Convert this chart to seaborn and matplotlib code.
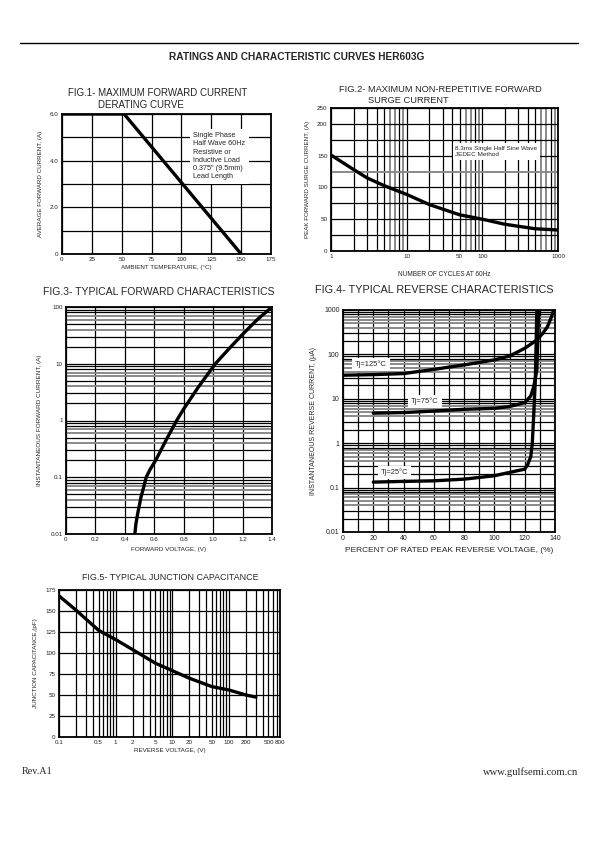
import numpy as np
import pandas as pd
import matplotlib
matplotlib.use("Agg")
import matplotlib.pyplot as plt
import seaborn as sns

# ---------------- data ----------------
# Fig.1 derating curve
derate_temp = [0, 52, 150]
derate_current = [6.0, 6.0, 0.0]
fig1_xticks = [0, 25, 50, 75, 100, 125, 150, 175]
fig1_yticks = [0, 2, 4, 6]
fig1_ylabels = ["0", "2.0", "4.0", "6.0"]

# Fig.2 surge current
surge_cycles = [1, 2, 3, 5, 10, 20, 50, 100, 200, 500, 1000]
surge_current = [151, 128, 115, 103, 89, 73, 57, 50, 42, 35, 33]
fig2_xticks = [1, 10, 50, 100, 1000]
fig2_yticks = [0, 50, 100, 150, 200, 225]
fig2_ylabels = ["0", "50", "100", "150", "200", "250"]

# Fig.3 forward characteristics
fwd_v = [0.468, 0.475, 0.49, 0.51, 0.53, 0.545, 0.57, 0.61, 0.68, 0.752, 0.80, 0.90,
         1.015, 1.10, 1.20, 1.30, 1.40]
fwd_i = [0.01, 0.015, 0.025, 0.045, 0.07, 0.1, 0.135, 0.2, 0.45, 1.0, 1.6, 3.9,
         10, 17.5, 33, 60, 100]
fig3_xticks = [0, 0.2, 0.4, 0.6, 0.8, 1.0, 1.2, 1.4]
fig3_xlabels = ["0", "0.2", "0.4", "0.6", "0.8", "1.0", "1.2", "1.4"]
fig3_yticks = [0.01, 0.1, 1, 10, 100]
fig3_ylabels = ["0.01", "0.1", "1", "10", "100"]

# Fig.4 reverse characteristics
rev_pct_125 = [0, 20, 40, 60, 80, 100, 110, 120, 128, 132, 135, 138, 139]
rev_i_125 = [34, 35, 37, 46, 58, 75, 92, 137, 211, 300, 420, 750, 1000]
rev_pct_75 = [20, 40, 60, 80, 100, 110, 120, 124, 126, 128, 128.8, 129.3]
rev_i_75 = [4.75, 4.9, 5.3, 5.8, 6.1, 6.7, 8.2, 11.6, 19.0, 44, 350, 1000]
rev_pct_25 = [20, 40, 60, 80, 100, 110, 120, 122, 124, 125, 126, 127, 127.5, 128]
rev_i_25 = [0.133, 0.138, 0.142, 0.155, 0.185, 0.22, 0.26, 0.33, 0.5, 1.0, 4.7, 27, 150, 1000]
fig4_xticks = [0, 20, 40, 60, 80, 100, 120, 140]
fig4_yticks = [0.01, 0.1, 1, 10, 100, 1000]
fig4_ylabels = ["0.01", "0.1", "1", "10", "100", "1000"]
tj_labels = ["Tj=125°C", "Tj=75°C", "Tj=25°C"]

# Fig.5 junction capacitance
cap_v = [0.1, 0.2, 0.5, 1, 2, 5, 10, 20, 50, 100, 200, 300]
cap_pf = [168, 151, 127, 116, 104, 88, 79, 70, 60, 56, 50, 47.5]
fig5_xticks = [0.1, 0.5, 1, 2, 5, 10, 20, 50, 100, 200, 500, 800]
fig5_xlabels = ["0.1", "0.5", "1", "2", "5", "10", "20", "50", "100", "200", "500", "800"]
fig5_yticks = [0, 25, 50, 75, 100, 125, 150, 175]

# ---------------- style ----------------
sns.set_theme(style="white")
plt.rcParams["font.family"] = ["Liberation Sans", "DejaVu Sans"]

W, H = 595, 842
fig = plt.figure(figsize=(W / 100, H / 100), dpi=100)


def axes_px(x0, y0, x1, y1):
    return fig.add_axes([x0 / W, 1 - y1 / H, (x1 - x0) / W, (y1 - y0) / H])


def ftext(px, py, s, **kw):
    fig.text(px / W, 1 - py / H, s, **kw)


def style_axes(ax, fs=4.5):
    for sp in ax.spines.values():
        sp.set_color("black")
        sp.set_linewidth(1.3)
        sp.set_zorder(5)
    ax.tick_params(axis="both", which="both", length=0, pad=2.5, labelsize=fs, colors="#222222")
    ax.set_facecolor("white")


def log_lines(ax, axis, lo, hi, gray_mults=(), lw=0.9, gray_lw=1.4):
    e = int(np.floor(np.log10(lo)))
    while 10 ** e <= hi * 1.0001:
        for m in range(1, 10):
            v = m * 10 ** e
            if v < lo * 0.9999 or v > hi * 1.0001:
                continue
            gray = m in gray_mults
            col = "#8a8a8a" if gray else "black"
            w = gray_lw if gray else lw
            if axis == "x":
                ax.axvline(v, color=col, lw=w, zorder=1)
            else:
                ax.axhline(v, color=col, lw=w, zorder=1)
        e += 1


def lin_lines(ax, axis, vals, gray_vals=(), lw=0.9):
    for v in vals:
        col = "#8a8a8a" if v in gray_vals else "black"
        w = 1.4 if v in gray_vals else lw
        if axis == "x":
            ax.axvline(v, color=col, lw=w, zorder=1)
        else:
            ax.axhline(v, color=col, lw=w, zorder=1)


# Header & footer
fig.add_artist(plt.Line2D([20 / W, 578 / W], [1 - 43 / H, 1 - 43 / H], color="black", lw=1.0))
ftext(297, 57, "RATINGS AND CHARACTERISTIC CURVES HER603G", ha="center", va="center",
      fontsize=7.3, fontweight="bold")
ftext(22, 772, "Rev.A1", ha="left", va="center", fontsize=7.3, family=["Liberation Serif"])
ftext(578, 772, "www.gulfsemi.com.cn", ha="right", va="center", fontsize=7.6,
      family=["Liberation Serif"])

# ---------------- Fig.1 ----------------
ax1 = axes_px(62, 114, 271, 254)
style_axes(ax1)
ax1.set_xlim(0, 175)
ax1.set_ylim(0, 6)
lin_lines(ax1, "x", fig1_xticks)
lin_lines(ax1, "y", [0, 1, 2, 3, 4, 5, 6])
df1 = pd.DataFrame({"t": derate_temp, "i": derate_current})
sns.lineplot(data=df1, x="t", y="i", ax=ax1, color="black", lw=2.4, estimator=None, sort=False, zorder=3)
ax1.set_xticks(fig1_xticks)
ax1.set_xticklabels([str(v) for v in fig1_xticks])
ax1.set_yticks(fig1_yticks)
ax1.set_yticklabels(fig1_ylabels)
ax1.set_xlabel("AMBIENT TEMPERATURE, (°C)", fontsize=4.5, labelpad=2)
ax1.set_ylabel("AVERAGE FORWARD CURRENT, (A)", fontsize=4.5, labelpad=5)
ax1.text(110, 5.22, "Single Phase\nHalf Wave 60Hz\nResistive or\nInductive Load\n0.375\" (9.5mm)\nLead Length",
         fontsize=5.2, va="top", ha="left", linespacing=1.25, zorder=4,
         bbox=dict(facecolor="white", edgecolor="none", pad=2.5))
ftext(68, 93, "FIG.1- MAXIMUM FORWARD CURRENT", ha="left", va="center", fontsize=7.0)
ftext(98, 105, "DERATING CURVE", ha="left", va="center", fontsize=7.0)

# ---------------- Fig.2 ----------------
ax2 = axes_px(331, 108, 558, 251)
style_axes(ax2)
ax2.set_xscale("log")
ax2.set_xlim(1, 1000)
ax2.set_ylim(0, 225)
log_lines(ax2, "x", 1, 1000, gray_mults=(6, 7, 9))
lin_lines(ax2, "y", [0, 25, 50, 75, 100, 125, 150, 175, 200, 225], gray_vals=(125,))
df2 = pd.DataFrame({"n": surge_cycles, "a": surge_current})
sns.lineplot(data=df2, x="n", y="a", ax=ax2, color="black", lw=2.4, estimator=None, sort=False, zorder=3)
ax2.xaxis.set_minor_locator(matplotlib.ticker.NullLocator())
ax2.set_xticks(fig2_xticks)
ax2.set_xticklabels([str(v) for v in fig2_xticks])
ax2.set_yticks(fig2_yticks)
ax2.set_yticklabels(fig2_ylabels)
ax2.set_xlabel("NUMBER OF CYCLES AT 60Hz", fontsize=4.7, labelpad=8)
ax2.set_ylabel("PEAK FORWARD SURGE CURRENT, (A)", fontsize=4.5, labelpad=5)
ax2.text(44, 165, "8.3ms Single Half Sine Wave\nJEDEC Method", fontsize=4.6, va="top", ha="left",
         linespacing=1.2, zorder=4, bbox=dict(facecolor="white", edgecolor="none", pad=2))
ftext(339, 89, "FIG.2- MAXIMUM NON-REPETITIVE FORWARD", ha="left", va="center", fontsize=6.7)
ftext(368, 100.5, "SURGE CURRENT", ha="left", va="center", fontsize=6.7)

# ---------------- Fig.3 ----------------
ax3 = axes_px(66, 307, 272, 534)
style_axes(ax3)
ax3.set_yscale("log")
ax3.set_xlim(0, 1.4)
ax3.set_ylim(0.01, 100)
lin_lines(ax3, "x", fig3_xticks)
log_lines(ax3, "y", 0.01, 100, gray_mults=(4, 6, 7))
df3 = pd.DataFrame({"v": fwd_v, "i": fwd_i})
sns.lineplot(data=df3, x="v", y="i", ax=ax3, color="black", lw=2.4, estimator=None, sort=False, zorder=3)
ax3.yaxis.set_minor_locator(matplotlib.ticker.NullLocator())
ax3.set_xticks(fig3_xticks)
ax3.set_xticklabels(fig3_xlabels)
ax3.set_yticks(fig3_yticks)
ax3.set_yticklabels(fig3_ylabels)
ax3.set_xlabel("FORWARD VOLTAGE, (V)", fontsize=4.6, labelpad=3)
ax3.set_ylabel("INSTANTANEOUS FORWARD CURRENT, (A)", fontsize=4.6, labelpad=6)
ftext(43, 292, "FIG.3- TYPICAL FORWARD CHARACTERISTICS", ha="left", va="center", fontsize=7.45)

# ---------------- Fig.4 ----------------
ax4 = axes_px(343, 310, 555, 532)
style_axes(ax4, fs=5)
ax4.set_yscale("log")
ax4.set_xlim(0, 140)
ax4.set_ylim(0.01, 1000)
lin_lines(ax4, "x", list(range(0, 141, 10)))
log_lines(ax4, "y", 0.01, 1000, gray_mults=(4, 5, 6, 7))
for xs, ys in [(rev_pct_125, rev_i_125), (rev_pct_75, rev_i_75), (rev_pct_25, rev_i_25)]:
    d = pd.DataFrame({"p": xs, "i": ys})
    sns.lineplot(data=d, x="p", y="i", ax=ax4, color="black", lw=2.4, estimator=None, sort=False, zorder=3)
ax4.yaxis.set_minor_locator(matplotlib.ticker.NullLocator())
ax4.set_xticks(fig4_xticks)
ax4.set_xticklabels([str(v) for v in fig4_xticks])
ax4.set_yticks(fig4_yticks)
ax4.set_yticklabels(fig4_ylabels)
ax4.set_xlabel("PERCENT OF RATED PEAK REVERSE VOLTAGE, (%)", fontsize=6.0, labelpad=3)
ax4.set_ylabel("INSTANTANEOUS REVERSE CURRENT, (μA)", fontsize=5, labelpad=5)
box = dict(facecolor="white", edgecolor="none", pad=2)
ax4.text(8, 60, tj_labels[0], fontsize=5.4, va="center", ha="left", zorder=4, bbox=box)
ax4.text(45, 8.8, tj_labels[1], fontsize=5.4, va="center", ha="left", zorder=4, bbox=box)
ax4.text(25, 0.22, tj_labels[2], fontsize=5.4, va="center", ha="left", zorder=4, bbox=box)
ftext(315, 290, "FIG.4- TYPICAL REVERSE CHARACTERISTICS", ha="left", va="center", fontsize=7.8)

# ---------------- Fig.5 ----------------
ax5 = axes_px(59, 590, 280, 737)
style_axes(ax5)
ax5.set_xscale("log")
ax5.set_xlim(0.1, 800)
ax5.set_ylim(0, 175)
log_lines(ax5, "x", 0.1, 800)
lin_lines(ax5, "y", fig5_yticks)
df5 = pd.DataFrame({"v": cap_v, "c": cap_pf})
sns.lineplot(data=df5, x="v", y="c", ax=ax5, color="black", lw=2.4, estimator=None, sort=False, zorder=3)
ax5.xaxis.set_minor_locator(matplotlib.ticker.NullLocator())
ax5.set_xticks(fig5_xticks)
ax5.set_xticklabels(fig5_xlabels)
ax5.set_yticks(fig5_yticks)
ax5.set_yticklabels([str(v) for v in fig5_yticks])
ax5.set_xlabel("REVERSE VOLTAGE, (V)", fontsize=4.5, labelpad=2)
ax5.set_ylabel("JUNCTION CAPACITANCE,(pF)", fontsize=4.5, labelpad=5)
ftext(82, 578, "FIG.5- TYPICAL JUNCTION CAPACITANCE", ha="left", va="center", fontsize=6.4)

for a in (ax1, ax2, ax3, ax4, ax5):
    if a.get_legend() is not None:
        a.get_legend().remove()

fig.savefig("out.png", dpi=100, facecolor="white")
